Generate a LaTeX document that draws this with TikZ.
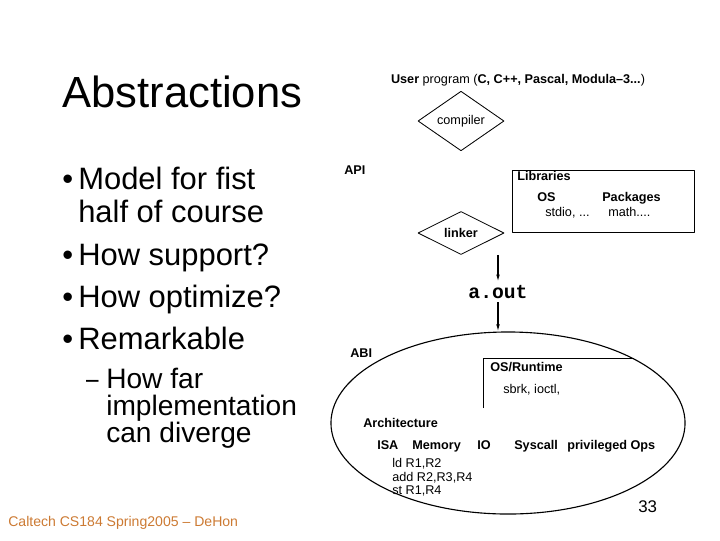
\documentclass[tikz,border=0pt]{standalone}
\usepackage{fontspec}
\setmainfont{Liberation Sans}
\setmonofont{Liberation Mono}
\usetikzlibrary{shapes.geometric,arrows.meta}
\definecolor{chan}{RGB}{204,122,51}
\begin{document}
\begin{tikzpicture}[x=0.025cm,y=-0.025cm,line join=round,
	txt/.style={inner sep=0,anchor=base west,font=\fontsize{9}{11}\selectfont},
	btxt/.style={txt,font=\fontsize{9}{11}\selectfont\bfseries},
	big/.style={inner sep=0,anchor=base west,font=\fontsize{22}{26}\selectfont},
	sub/.style={inner sep=0,anchor=base west,font=\fontsize{20}{24}\selectfont},
	buoc/.style={draw,diamond,inner sep=0,minimum width=2.15cm,minimum height=1.07cm,line width=.6pt,font=\fontsize{9}{11}\selectfont},
	mui/.style={-{Latex[length=5pt,width=2.6pt]},line width=.8pt}]
	\useasboundingbox (0,0) rectangle (720,540);
	% ben trai
	\node (tieude) at (62,107) [inner sep=0,anchor=base west,font=\fontsize{31}{36}\selectfont]{Abstractions};
	\foreach \y/\t in {189/Model for fist,265/How support?,307/How optimize?,349/Remarkable}{
		\node (cham\y) at (62,\y) [big]{•};
		\node (dong\y) at (78,\y) [big]{\t};
	}
	\node (dong222) at (78,222) [big]{half of course};
	\node (gach) at (86,388) [sub,xscale=.8]{–};
	\node (sub388) at (106,388) [sub]{How far};
	\node (sub415) at (106,415) [sub]{implementation};
	\node (sub442) at (106,442) [sub]{can diverge};
	\node (chan) at (8,526) [inner sep=0,anchor=base west,font=\fontsize{10}{12}\selectfont,text=chan]{Caltech CS184 Spring2005 – DeHon};
	\node (trang) at (638,512) [inner sep=0,anchor=base west,font=\fontsize{12}{14}\selectfont]{33};
	% so do
	\node (user) at (518,83) [txt,anchor=base]{\textbf{User} program (\textbf{C, C++, Pascal, Modula–3...})};
	\node (compiler) at (461,121) [buoc]{compiler};
	\node (linker) at (461,233) [buoc,font=\fontsize{9}{11}\selectfont\bfseries]{linker};
	\node (api) at (344,174) [btxt]{API};
	\node (libs) at (603,201) [draw,inner sep=0,minimum width=4.55cm,minimum height=1.55cm,line width=.6pt]{};
	\node (lib) at (517,180) [btxt]{Libraries};
	\node (os) at (537,201) [btxt]{OS};
	\node (pkg) at (602,201) [btxt]{Packages};
	\node (stdio) at (545,216) [txt]{stdio, ...};
	\node (math) at (608,216) [txt]{math....};
	\node (aout) at (498,292) [inner sep=2.5pt,font=\fontsize{14}{16}\selectfont\ttfamily\bfseries]{a.out};
	\node (abi) at (508,423) [draw,ellipse,inner sep=0,minimum width=8.85cm,minimum height=4.55cm,line width=.8pt]{};
	\node (abil) at (350,357) [btxt]{ABI};
	\draw[line width=.6pt] (483,408) |- (abi.27);
	\node (osrt) at (490,371) [btxt]{OS/Runtime};
	\node (sbrk) at (503,393) [txt]{sbrk, ioctl,};
	\node (arch) at (363,427) [btxt]{Architecture};
	\foreach \x/\t in {377/ISA,412/Memory,477/IO,514/Syscall,567/privileged Ops}
		\node (isa\x) at (\x,449) [btxt]{\t};
	\foreach \y/\t in {467/{ld R1,R2},481/{add R2,R3,R4},494/{st R1,R4}}
		\node (lenh\y) at (392,\y) [txt]{\t};
	\draw[mui] (aout |- linker.south) -- (aout.north);
	\draw[mui] (aout.south) -- (aout.south |- abi.north);
\end{tikzpicture}
\end{document}
